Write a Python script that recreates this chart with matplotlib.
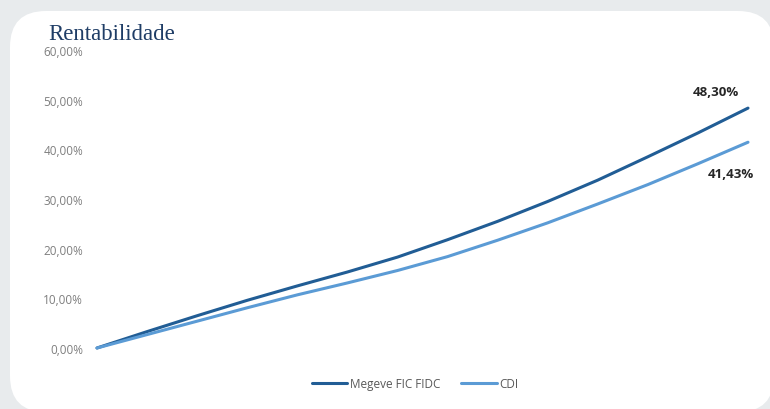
import matplotlib
matplotlib.use('Agg')
import matplotlib.pyplot as plt
from matplotlib.patches import FancyBboxPatch
from matplotlib.ticker import FuncFormatter

# valores (rentabilidade acumulada, %)
periodos = list(range(14))
megeve = [0, 3.3, 6.5, 9.6, 12.5, 15.3, 18.3, 21.8, 25.5, 29.5, 33.8, 38.5, 43.3, 48.30]
cdi = [0, 2.7, 5.4, 8.1, 10.7, 13.1, 15.6, 18.4, 21.7, 25.2, 29.0, 32.9, 37.1, 41.43]
y_ticks = [0, 10, 20, 30, 40, 50, 60]
series_names = ['Megeve FIC FIDC', 'CDI']
final_labels = ['48,30%', '41,43%']

W, H = 770, 410
fig = plt.figure(figsize=(W / 100, H / 100), dpi=100)
fig.patch.set_facecolor('#e8ebed')

# cartao branco com cantos arredondados
card = FancyBboxPatch((10 / W, -3 / H), 764 / W, 401 / H,
                      boxstyle='round,pad=0,rounding_size=%f' % (36 / W),
                      mutation_aspect=W / H,
                      transform=fig.transFigure, facecolor='white',
                      edgecolor='none', zorder=-10)
fig.patches.append(card)

fig.text(48 / W, 1 - 35 / H, 'Rentabilidade', family='Liberation Serif',
         fontsize=16.5, color='#1f3d66', va='center', ha='left')

ax = fig.add_axes([97 / W, (H - 349) / H, (748 - 97) / W, 298 / H])
ax.set_facecolor('none')
ax.set_zorder(2)

l1, = ax.plot(periodos, megeve, color='#215d95', lw=2.2, clip_on=False,
              solid_capstyle='round', label=series_names[0])
l2, = ax.plot(periodos, cdi, color='#5b9bd5', lw=2.2, clip_on=False,
              solid_capstyle='round', label=series_names[1])

ax.set_xlim(0, 13)
ax.set_ylim(0, 60)
ax.set_yticks(y_ticks)
ax.yaxis.set_major_formatter(FuncFormatter(lambda v, p: f'{v:.2f}%'.replace('.', ',')))
ax.set_xticks([])
for s in ax.spines.values():
    s.set_visible(False)
ax.tick_params(axis='y', length=0, pad=10, labelsize=8.5, labelcolor='#7f7f7f')
for t in ax.get_yticklabels():
    t.set_family('Open Sans')

ax.annotate(final_labels[0], (periodos[-1], megeve[-1]), xytext=(-32, 17),
            textcoords='offset pixels', ha='center', va='center',
            fontsize=9.5, fontweight='bold', color='#262626', family='Open Sans')
ax.annotate(final_labels[1], (periodos[-1], cdi[-1]), xytext=(-17, -31),
            textcoords='offset pixels', ha='center', va='center',
            fontsize=9.5, fontweight='bold', color='#262626', family='Open Sans')

leg = fig.legend(handles=[l1, l2], loc='center', bbox_to_anchor=(415 / W, 25 / H),
                 ncol=2, frameon=False, handlelength=3.0, handletextpad=0.2,
                 columnspacing=1.8, prop={'family': 'Open Sans', 'size': 8.5})
for t in leg.get_texts():
    t.set_color('#595959')

fig.savefig('out.png', dpi=100, facecolor=fig.get_facecolor())
